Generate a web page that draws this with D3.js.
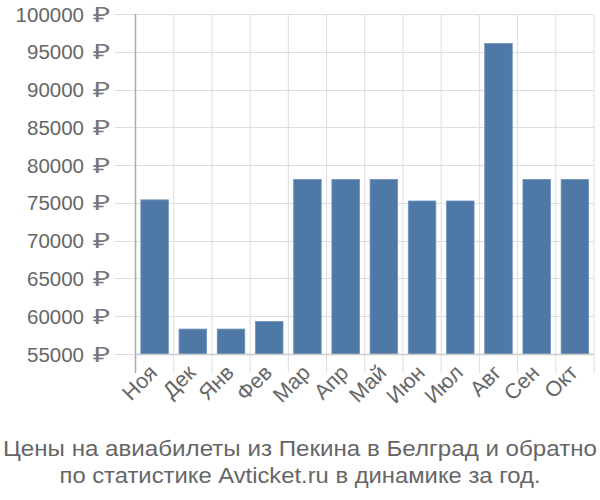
<!DOCTYPE html>
<html><head><meta charset="utf-8">
<script src="https://cdn.jsdelivr.net/npm/d3@7"></script>
<style>body{margin:0;background:#fff}svg{display:block}</style>
</head><body>
<svg id="c" width="600" height="500"></svg>
<script>
const months = ["Ноя","Дек","Янв","Фев","Мар","Апр","Май","Июн","Июл","Авг","Сен","Окт"];
const prices = [75400, 58300, 58300, 59300, 78100, 78100, 78100, 75250, 75250, 96100, 78100, 78100];
const yTicks = [55000, 60000, 65000, 70000, 75000, 80000, 85000, 90000, 95000, 100000];
const titleLines = ["Цены на авиабилеты из Пекина в Белград и обратно", "по статистике Avticket.ru в динамике за год."];

(function () {
const svg = d3.select("#c");
const font = "'Liberation Sans', Arial, sans-serif";
const pLeft = 135.5, pRight = 594, pTop = 14, pBottom = 354;

const x = d3.scaleBand().domain(months).range([pLeft, pRight]).paddingInner(0.28).paddingOuter(0.14);
const y = d3.scaleLinear().domain([55000, 100000]).range([pBottom, pTop]);

// horizontal grid
svg.append("g").selectAll("line").data(yTicks).join("line")
  .attr("x1", 115).attr("x2", pRight).attr("y1", d => Math.round(y(d)) + 0.5).attr("y2", d => Math.round(y(d)) + 0.5)
  .attr("stroke", "#dddddd").attr("stroke-width", 1);

// vertical grid at band boundaries
const bounds = months.map(m => x(m) - x.step() * x.paddingOuter()).concat([pRight]);
svg.append("g").selectAll("line").data(bounds.slice(1)).join("line")
  .attr("x1", d => d).attr("x2", d => d).attr("y1", pTop).attr("y2", 373)
  .attr("stroke", "#dddddd").attr("stroke-width", 1);

// bars
svg.append("g").selectAll("rect").data(prices).join("rect")
  .attr("x", (d, i) => x(months[i]))
  .attr("width", x.bandwidth())
  .attr("y", d => y(d))
  .attr("height", d => pBottom - y(d))
  .attr("fill", "#4e78a6")
  .attr("stroke", "#6f91b9").attr("stroke-width", 0.8);

// left axis line
svg.append("line").attr("x1", pLeft).attr("x2", pLeft).attr("y1", pTop).attr("y2", 373)
  .attr("stroke", "#aaaaaa").attr("stroke-width", 1.5);
// bottom axis line
svg.append("line").attr("x1", pLeft).attr("x2", pRight).attr("y1", pBottom + 0.5).attr("y2", pBottom + 0.5)
  .attr("stroke", "#cccccc").attr("stroke-width", 1.5);

// y labels: number + rouble sign
const yl = svg.append("g").selectAll("g").data(yTicks).join("g");
yl.append("text")
  .attr("x", 84).attr("y", d => y(d) + 7.5)
  .attr("text-anchor", "end").attr("fill", "#666").attr("font-family", font).attr("font-size", 20.5)
  .text(d => d);
yl.append("text")
  .attr("x", 93).attr("y", d => y(d) + 7.5)
  .attr("fill", "#777").attr("font-family", font).attr("font-size", 21)
  .attr("textLength", 17).attr("lengthAdjust", "spacingAndGlyphs")
  .text("₽");

// x labels
svg.append("g").selectAll("text").data(months).join("text")
  .attr("transform", d => `translate(${x(d) + x.bandwidth() / 2 + 4},${374}) rotate(-45)`)
  .attr("text-anchor", "end").attr("fill", "#666").attr("font-family", font).attr("font-size", 21.5)
  .text(d => d);

// title
const tw = [594, 481];
svg.append("g").selectAll("text").data(titleLines).join("text")
  .attr("x", 300).attr("y", (d, i) => 456 + i * 27)
  .attr("text-anchor", "middle").attr("fill", "#666").attr("font-family", font).attr("font-size", 22)
  .attr("textLength", (d, i) => tw[i]).attr("lengthAdjust", "spacingAndGlyphs")
  .text(d => d);
})();
</script>
</body></html>
